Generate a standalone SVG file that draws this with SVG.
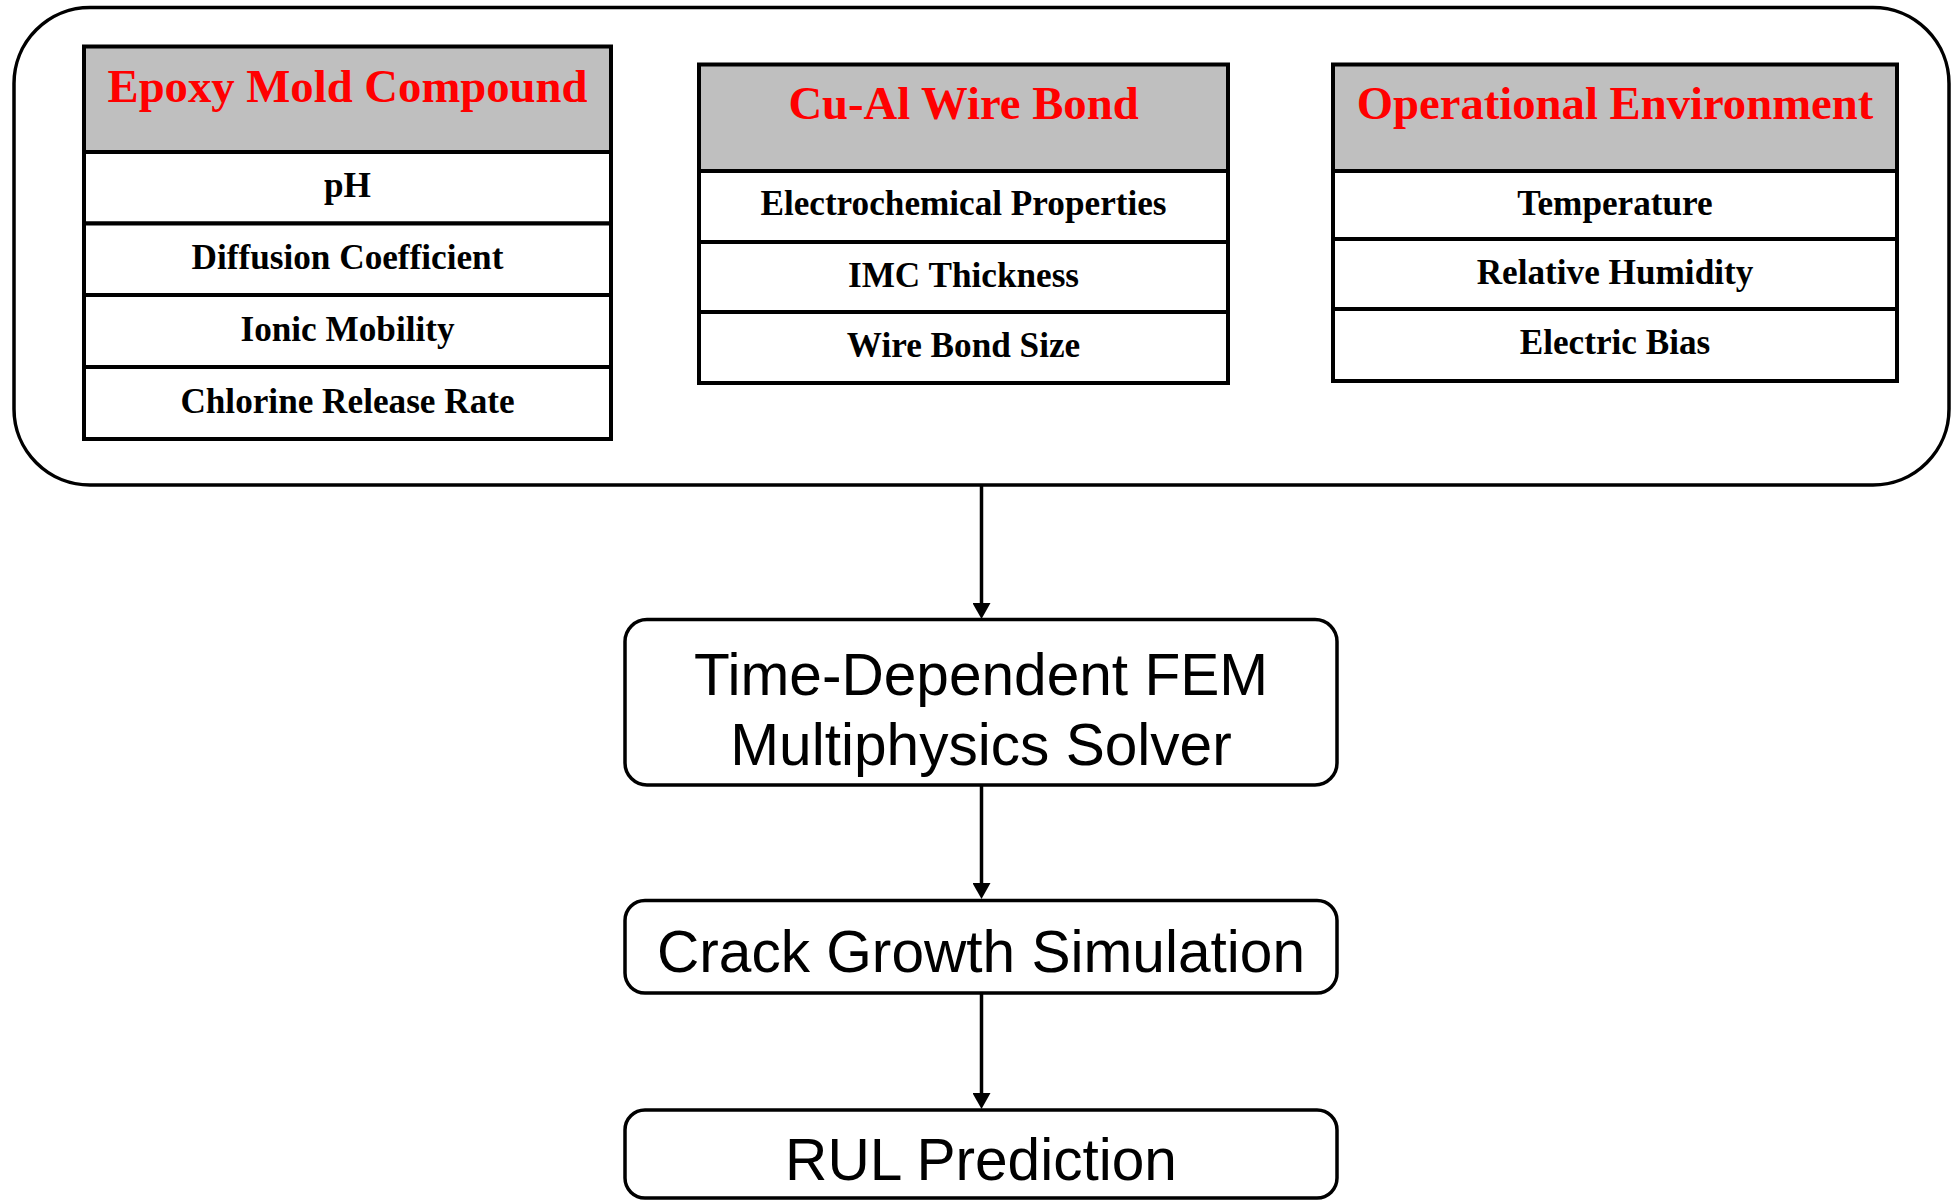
<svg xmlns="http://www.w3.org/2000/svg" width="1956" height="1201" viewBox="0 0 1956 1201">
  <defs>
    <marker id="arrow" viewBox="0 0 16 18" refX="10" refY="9" markerWidth="16" markerHeight="18" markerUnits="userSpaceOnUse" orient="auto">
      <path d="M0,0 L16,9 L0,18 z" fill="#000"/>
    </marker>
    <style>
      .outer { fill: #fff; stroke: #000; stroke-width: 3.5; }
      .hdr { fill: #BFBFBF; stroke: #000; stroke-width: 4; }
      .row { fill: #fff; stroke: #000; stroke-width: 4; }
      .htext { font-family: "Liberation Serif", "Times New Roman", serif; font-weight: bold; font-size: 46.7px; fill: #FF0000; text-anchor: middle; }
      .rtext { font-family: "Liberation Serif", "Times New Roman", serif; font-weight: bold; font-size: 35.2px; fill: #000; text-anchor: middle; }
      .pbox { fill: #fff; stroke: #000; stroke-width: 3.5; }
      .ptext { font-family: "Liberation Sans", Arial, sans-serif; font-size: 58.6px; fill: #000; text-anchor: middle; }
      .conn { stroke: #000; stroke-width: 3.5; fill: none; marker-end: url(#arrow); }
    </style>
  </defs>
  <rect width="1956" height="1201" fill="#fff"/>

  <g id="inputs-container">
    <rect class="outer" x="14" y="7.5" width="1935" height="477.5" rx="76" ry="76"/>
  </g>

  <g id="epoxy-mold-compound">
    <rect class="hdr" x="84" y="46.5" width="527" height="105.5"/>
    <rect class="row" x="84" y="152" width="527" height="71.5"/>
    <rect class="row" x="84" y="223.5" width="527" height="71.5"/>
    <rect class="row" x="84" y="295" width="527" height="72"/>
    <rect class="row" x="84" y="367" width="527" height="72"/>
    <text class="htext" x="347.5" y="102">Epoxy Mold Compound</text>
    <text class="rtext" x="347.5" y="197">pH</text>
    <text class="rtext" x="347.5" y="269">Diffusion Coefficient</text>
    <text class="rtext" x="347.5" y="341">Ionic Mobility</text>
    <text class="rtext" x="347.5" y="413">Chlorine Release Rate</text>
  </g>

  <g id="cu-al-wire-bond">
    <rect class="hdr" x="699" y="64.5" width="529" height="106.5"/>
    <rect class="row" x="699" y="171" width="529" height="71"/>
    <rect class="row" x="699" y="242" width="529" height="70"/>
    <rect class="row" x="699" y="312" width="529" height="71"/>
    <text class="htext" x="963.5" y="119">Cu-Al Wire Bond</text>
    <text class="rtext" x="963.5" y="215">Electrochemical Properties</text>
    <text class="rtext" x="963.5" y="287">IMC Thickness</text>
    <text class="rtext" x="963.5" y="357">Wire Bond Size</text>
  </g>

  <g id="operational-environment">
    <rect class="hdr" x="1333" y="64.5" width="564" height="106.5"/>
    <rect class="row" x="1333" y="171" width="564" height="68"/>
    <rect class="row" x="1333" y="239" width="564" height="70"/>
    <rect class="row" x="1333" y="309" width="564" height="72"/>
    <text class="htext" x="1615" y="119">Operational Environment</text>
    <text class="rtext" x="1615" y="215">Temperature</text>
    <text class="rtext" x="1615" y="284">Relative Humidity</text>
    <text class="rtext" x="1615" y="354">Electric Bias</text>
  </g>

  <g id="fem-solver">
    <rect class="pbox" x="625" y="619.5" width="712" height="165.5" rx="22" ry="22"/>
    <text class="ptext" x="981" y="695">Time-Dependent FEM</text>
    <text class="ptext" x="981" y="765">Multiphysics Solver</text>
  </g>

  <g id="crack-growth">
    <rect class="pbox" x="625" y="900.5" width="712" height="92.5" rx="20" ry="20"/>
    <text class="ptext" x="981" y="972">Crack Growth Simulation</text>
  </g>

  <g id="rul-prediction">
    <rect class="pbox" x="625" y="1110" width="712" height="88" rx="20" ry="20"/>
    <text class="ptext" x="981" y="1180">RUL Prediction</text>
  </g>

  <g id="connectors">
    <line class="conn" x1="981.5" y1="486" x2="981.5" y2="613"/>
    <line class="conn" x1="981.5" y1="786" x2="981.5" y2="893"/>
    <line class="conn" x1="981.5" y1="994" x2="981.5" y2="1103"/>
  </g>
</svg>
